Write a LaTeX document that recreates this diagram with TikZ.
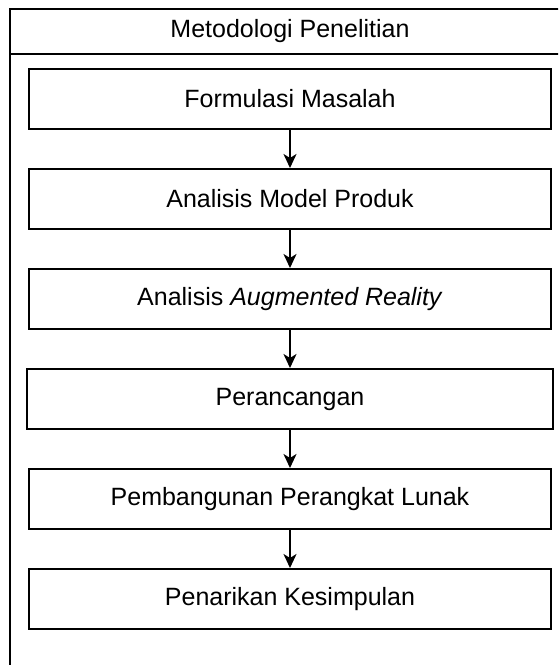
\documentclass[tikz,border=0pt]{standalone}
\usepackage{fontspec}
\setmainfont{Liberation Sans}
\usetikzlibrary{arrows.meta}

\tikzset{
  stepbox/.style={draw,line width=2pt,minimum width=522pt,minimum height=60pt,inner sep=0pt},
  flow/.style={line width=2pt,-{Stealth[length=14pt,width=13pt,inset=4pt]}}
}

\begin{document}
\begin{tikzpicture}[x=1pt,y=-1pt,font=\fontsize{25}{30}\selectfont]
\path[use as bounding box,clip](0,0)rectangle(558,665);
% outer frame and title bar
\draw[line width=2pt](9.5,8.5)rectangle(575,700);
\draw[line width=2pt](9.5,54)--(575,54);
\node(judul)at(290,31){Metodologi Penelitian};
% steps
\node[stepbox](rumusan)at(290,99){Formulasi Masalah};
\node[stepbox](model)at(290,199){Analisis Model Produk};
\node[stepbox](ar)at(290,299){Analisis \textit{Augmented Reality}};
\node[stepbox,minimum width=526pt](rancang)at(290,399){Perancangan};
\node[stepbox](bangun)at(290,499){Pembangunan Perangkat Lunak};
\node[stepbox](simpul)at(290,599){Penarikan Kesimpulan};
\draw[flow](rumusan)--(model);
\draw[flow](model)--(ar);
\draw[flow](ar)--(rancang);
\draw[flow](rancang)--(bangun);
\draw[flow](bangun)--(simpul);
\end{tikzpicture}
\end{document}
